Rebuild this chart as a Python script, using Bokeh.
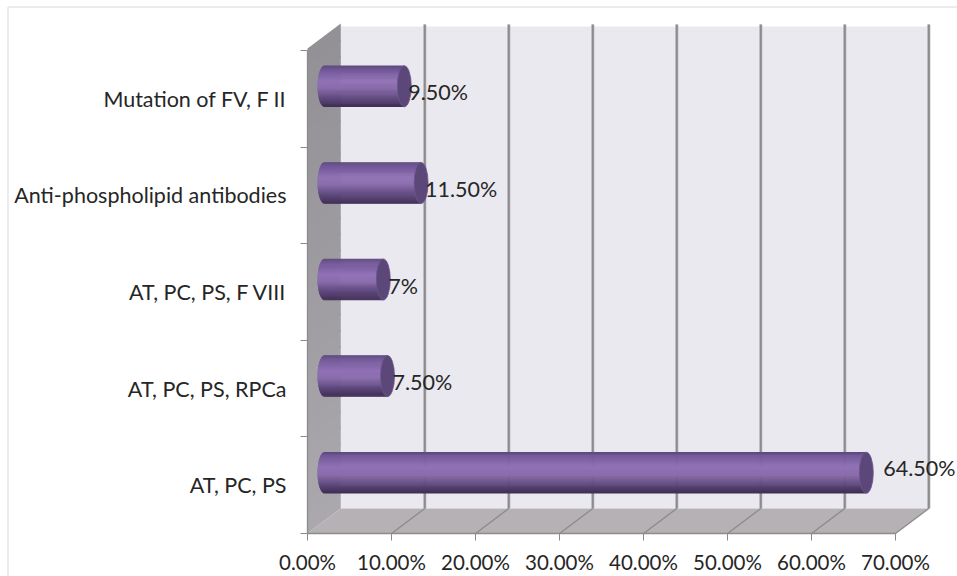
import numpy as np
from bokeh.core.properties import value
from bokeh.embed import file_html
from bokeh.models import ColumnDataSource, FixedTicker, Range1d
from bokeh.plotting import figure
from bokeh.resources import INLINE

# Chart values, bottom row first
categories = ["AT, PC, PS", "AT, PC, PS, RPCa", "AT, PC, PS, F VIII",
              "Anti-phospholipid antibodies", "Mutation of FV, F II"]
percentages = [64.5, 7.5, 7.0, 11.5, 9.5]
value_labels = ["64.50%", "7.50%", "7%", "11.50%", "9.50%"]
x_tick_values = [0, 10, 20, 30, 40, 50, 60, 70]

# The frame fills the page; these fix where zero falls and the pixels per unit
WIDTH, HEIGHT = 957, 576
X0, Y0 = 307, 533
PX_X = 8.4
PX_Y = 96.6
DEPTH_X = 33.3 / PX_X
DEPTH_Y = 25 / PX_Y
WALL_TOP = 507 / PX_Y
GRID_TOP = 509 / PX_Y
CAP_A = 7 / PX_X
CAP_B = 20.5 / PX_Y
CAP_START = 17 / PX_X

GREY = "#8b8b8d"
TEXT = "#262626"
FONT = "Lato"
LABEL_SIZE = "21.5px"
TICK_SIZE = "20.5px"

p = figure(width=WIDTH, height=HEIGHT, output_backend="svg", toolbar_location=None,
           min_border=0,
           x_range=Range1d(-X0 / PX_X, (WIDTH - X0) / PX_X),
           y_range=Range1d((Y0 - HEIGHT) / PX_Y, Y0 / PX_Y))
p.outline_line_color = None
p.grid.visible = False
p.background_fill_color = "white"
p.border_fill_color = "white"


def mix(stops, t):
    xs = [s[0] for s in stops]
    rgb = [np.interp(t, xs, [s[1][k] for s in stops]) for k in range(3)]
    return "#%02x%02x%02x" % tuple(int(round(c)) for c in rgb)


# Thin frame along the top and left of the chart area
frame_x = (7.5 - X0) / PX_X
frame_y = (Y0 - 6.5) / PX_Y
p.line([frame_x, frame_x, (WIDTH - X0) / PX_X], [(Y0 - HEIGHT) / PX_Y, frame_y, frame_y],
       line_color="#d9d9d9", line_width=1)

# Back wall
p.quad(left=[DEPTH_X], right=[70 + DEPTH_X], bottom=[DEPTH_Y], top=[WALL_TOP],
       fill_color="#ebe9f0", line_color=None)

# Left wall, shaded from top to bottom
wall_bands = 30
wall_edges = np.linspace(0, 5, wall_bands + 1)
for i in range(wall_bands):
    lo, hi = wall_edges[i], wall_edges[i + 1] + 0.02
    p.patch([0, DEPTH_X, DEPTH_X, 0], [lo, lo + DEPTH_Y, hi + DEPTH_Y, hi],
            fill_color=mix([(0, (170, 168, 172)), (1, (146, 144, 148))], i / wall_bands),
            line_color=None)

# Floor
p.patch([0, 70, 70 + DEPTH_X, DEPTH_X], [0, 0, DEPTH_Y, DEPTH_Y],
        fill_color="#b5b1b5", line_color=None)

# Gridlines on the back wall and their continuation across the floor
grid_x = [t + DEPTH_X for t in x_tick_values[1:]]
p.segment(grid_x, DEPTH_Y, grid_x, GRID_TOP, line_color="#cbcacf", line_width=3.5)
p.segment(grid_x, DEPTH_Y, grid_x, GRID_TOP, line_color=GREY, line_width=2)
p.segment(x_tick_values[1:], 0, grid_x, DEPTH_Y, line_color=GREY, line_width=1.3)

# Cylinders: thin horizontal strips shaded across the height, then the end cap
shade = [(-1.0, (92, 72, 122)), (-0.82, (112, 86, 150)), (-0.25, (144, 113, 182)),
         (0.1, (138, 108, 172)), (0.62, (92, 70, 122)), (1.0, (62, 46, 84))]
strips = 84
offsets = np.linspace(-1, 1, strips, endpoint=False) + 1 / strips
for row, v in enumerate(percentages):
    yc = row + 0.5 + DEPTH_Y / 2
    left = CAP_START - CAP_A * np.sqrt(1 - offsets ** 2)
    right = np.full(strips, CAP_START + v)
    ys = yc - offsets * CAP_B
    colors = [mix(shade, t) for t in offsets]
    h = 2 * CAP_B / strips * 2
    p.hbar(y=ys, left=left, right=right, height=h, fill_color=colors, line_color=None)

caps_x = [CAP_START + v for v in percentages]
caps_y = [r + 0.5 + DEPTH_Y / 2 for r in range(len(percentages))]
p.ellipse(caps_x, caps_y, width=2 * CAP_A, height=2 * CAP_B,
          fill_color="#5c4779", line_color="#6b5590", line_width=0.8)

# Value labels next to each cap
label_source = ColumnDataSource(dict(
    x=caps_x, y=caps_y, text=value_labels,
    dx=[17, 5, 5, 4, 4], dy=[-5, 6, 6, 6, 6]))
p.text(x="x", y="y", text="text", x_offset="dx", y_offset="dy", source=label_source,
       text_font=value(FONT), text_font_size=LABEL_SIZE, text_color=TEXT,
       text_align="left", text_baseline="middle")

# Axes sit at the zero lines of the data
xaxis = p.xaxis[0]
xaxis.fixed_location = 0
xaxis.ticker = FixedTicker(ticks=x_tick_values)
xaxis.major_label_overrides = {t: f"{t:.2f}%" for t in x_tick_values}
xaxis.bounds = (0, 70)
xaxis.major_tick_in = 0
xaxis.major_tick_out = 7
xaxis.minor_tick_out = 0
xaxis.minor_tick_in = 0
xaxis.axis_line_color = GREY
xaxis.axis_line_width = 1.3
xaxis.major_tick_line_color = GREY
xaxis.major_label_standoff = 9
xaxis.major_label_text_font = FONT
xaxis.major_label_text_font_size = TICK_SIZE
xaxis.major_label_text_color = TEXT

yaxis = p.yaxis[0]
yaxis.fixed_location = 0
band_centres = [r + 0.5 for r in range(len(categories))]
yaxis.ticker = FixedTicker(ticks=band_centres, minor_ticks=list(range(len(categories) + 1)))
yaxis.major_label_overrides = dict(zip(band_centres, categories))
yaxis.bounds = (0, 5)
yaxis.major_tick_in = 0
yaxis.major_tick_out = 0
yaxis.minor_tick_in = 0
yaxis.minor_tick_out = 7
yaxis.minor_tick_line_color = GREY
yaxis.axis_line_color = GREY
yaxis.axis_line_width = 1.3
yaxis.major_label_standoff = 14
yaxis.major_label_text_font = FONT
yaxis.major_label_text_font_size = LABEL_SIZE
yaxis.major_label_text_color = TEXT

open("out.html", "w").write(file_html(p, INLINE))
